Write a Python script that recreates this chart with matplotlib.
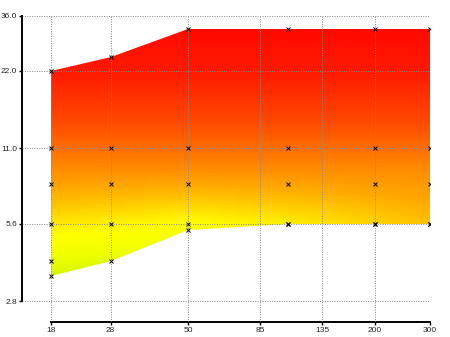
import numpy as np
import matplotlib
matplotlib.use("Agg")
import matplotlib.pyplot as plt
from matplotlib.colors import LinearSegmentedColormap

# ---- data ----
focal = [18, 28, 50, 105, 200, 300]
f_max = [22, 25, 32, 32, 32, 32]
f_min = [3.5, 4.0, 5.3, 5.6, 5.6, 5.6]
mid_stops = [11, 8, 5.6]
extra_x = [18]
extra_y = [4.0]
xticks = [18, 28, 50, 85, 135, 200, 300]
xlabels = ["18", "28", "50", "85", "135", "200", "300"]
yticks = [2.8, 5.6, 11.0, 22.0, 36.0]
ylabels = ["2.8", "5.6", "11.0", "22.0", "36.0"]

fig = plt.figure(figsize=(4.5, 3.37), dpi=100)
ax = fig.add_axes([22/450, 1-322/337, (429.5-22)/450, (322-16)/337])
ax.set_xscale("log")
ax.set_yscale("log")
ax.set_xlim(14.5, 300)
ax.set_ylim(2.32, 36)

# gradient fill clipped to the range polygon
poly = ax.fill_between(focal, f_min, f_max, facecolor="none", edgecolor="none", linewidth=0)
gx = np.exp(np.linspace(np.log(14.5), np.log(300), 300))
gy = np.exp(np.linspace(np.log(2.32), np.log(36), 300))
X, Y = np.meshgrid(gx, gy)
t = np.log2(Y / 2.8)
corr = np.interp(np.log(X), np.log([18, 50, 105, 300]), [0.05, -0.12, 0.0, 0.3])
t_eff = t + corr * np.clip((1.7 - t) / 0.7, 0, 1)
tmax = np.log2(36 / 2.8)
stops = [
    (0.0, (0.75, 1.0, 0.0)),
    (0.32, (0.82, 0.96, 0.0)),
    (0.6, (0.94, 1.0, 0.0)),
    (0.88, (1.0, 1.0, 0.0)),
    (1.0, (1.0, 0.93, 0.0)),
    (1.5, (1.0, 0.64, 0.0)),
    (1.97, (1.0, 0.43, 0.0)),
    (2.34, (1.0, 0.28, 0.0)),
    (2.97, (1.0, 0.10, 0.0)),
    (3.5, (1.0, 0.04, 0.0)),
    (tmax, (1.0, 0.0, 0.0)),
]
cmap = LinearSegmentedColormap.from_list("ap", [(p / tmax, c) for p, c in stops])
mesh = ax.pcolormesh(X, Y, t_eff, cmap=cmap, vmin=0, vmax=tmax, shading="auto",
                     zorder=1, antialiased=False, rasterized=True)
path = poly.get_paths()[0]
mesh.set_clip_path(path, ax.transData)

# markers
mx, my = [], []
for i, f in enumerate(focal):
    mx.append(f); my.append(f_max[i])
    mx.append(f); my.append(f_min[i])
    for s in mid_stops:
        mx.append(f); my.append(s)
mx += extra_x
my += extra_y
ax.plot(mx, my, linestyle="none", marker="x", color="black", markersize=2.6,
        markeredgewidth=0.7, zorder=4)

# axes styling
ax.set_axisbelow(False)
ax.grid(True, which="major", color="#8a8a8a", linestyle=(0, (1, 1.4)), linewidth=0.72)
ax.minorticks_off()
ax.set_xticks(xticks)
ax.set_xticklabels(xlabels)
ax.set_yticks(yticks)
ax.set_yticklabels(ylabels)
ax.tick_params(which="minor", length=0)
ax.tick_params(axis="both", length=2.5, width=1, color="black", pad=0.8,
               labelsize=6, labelcolor="#222222")
for lab in ax.get_xticklabels() + ax.get_yticklabels():
    lab.set_fontfamily("Liberation Sans")
for s in ["top", "right"]:
    ax.spines[s].set_visible(False)
ax.spines["left"].set_bounds(2.8, 36)
ax.spines["bottom"].set_bounds(18, 300)
ax.spines["left"].set_linewidth(1.4)
ax.spines["bottom"].set_linewidth(1.4)

fig.savefig("out.png", dpi=100)
